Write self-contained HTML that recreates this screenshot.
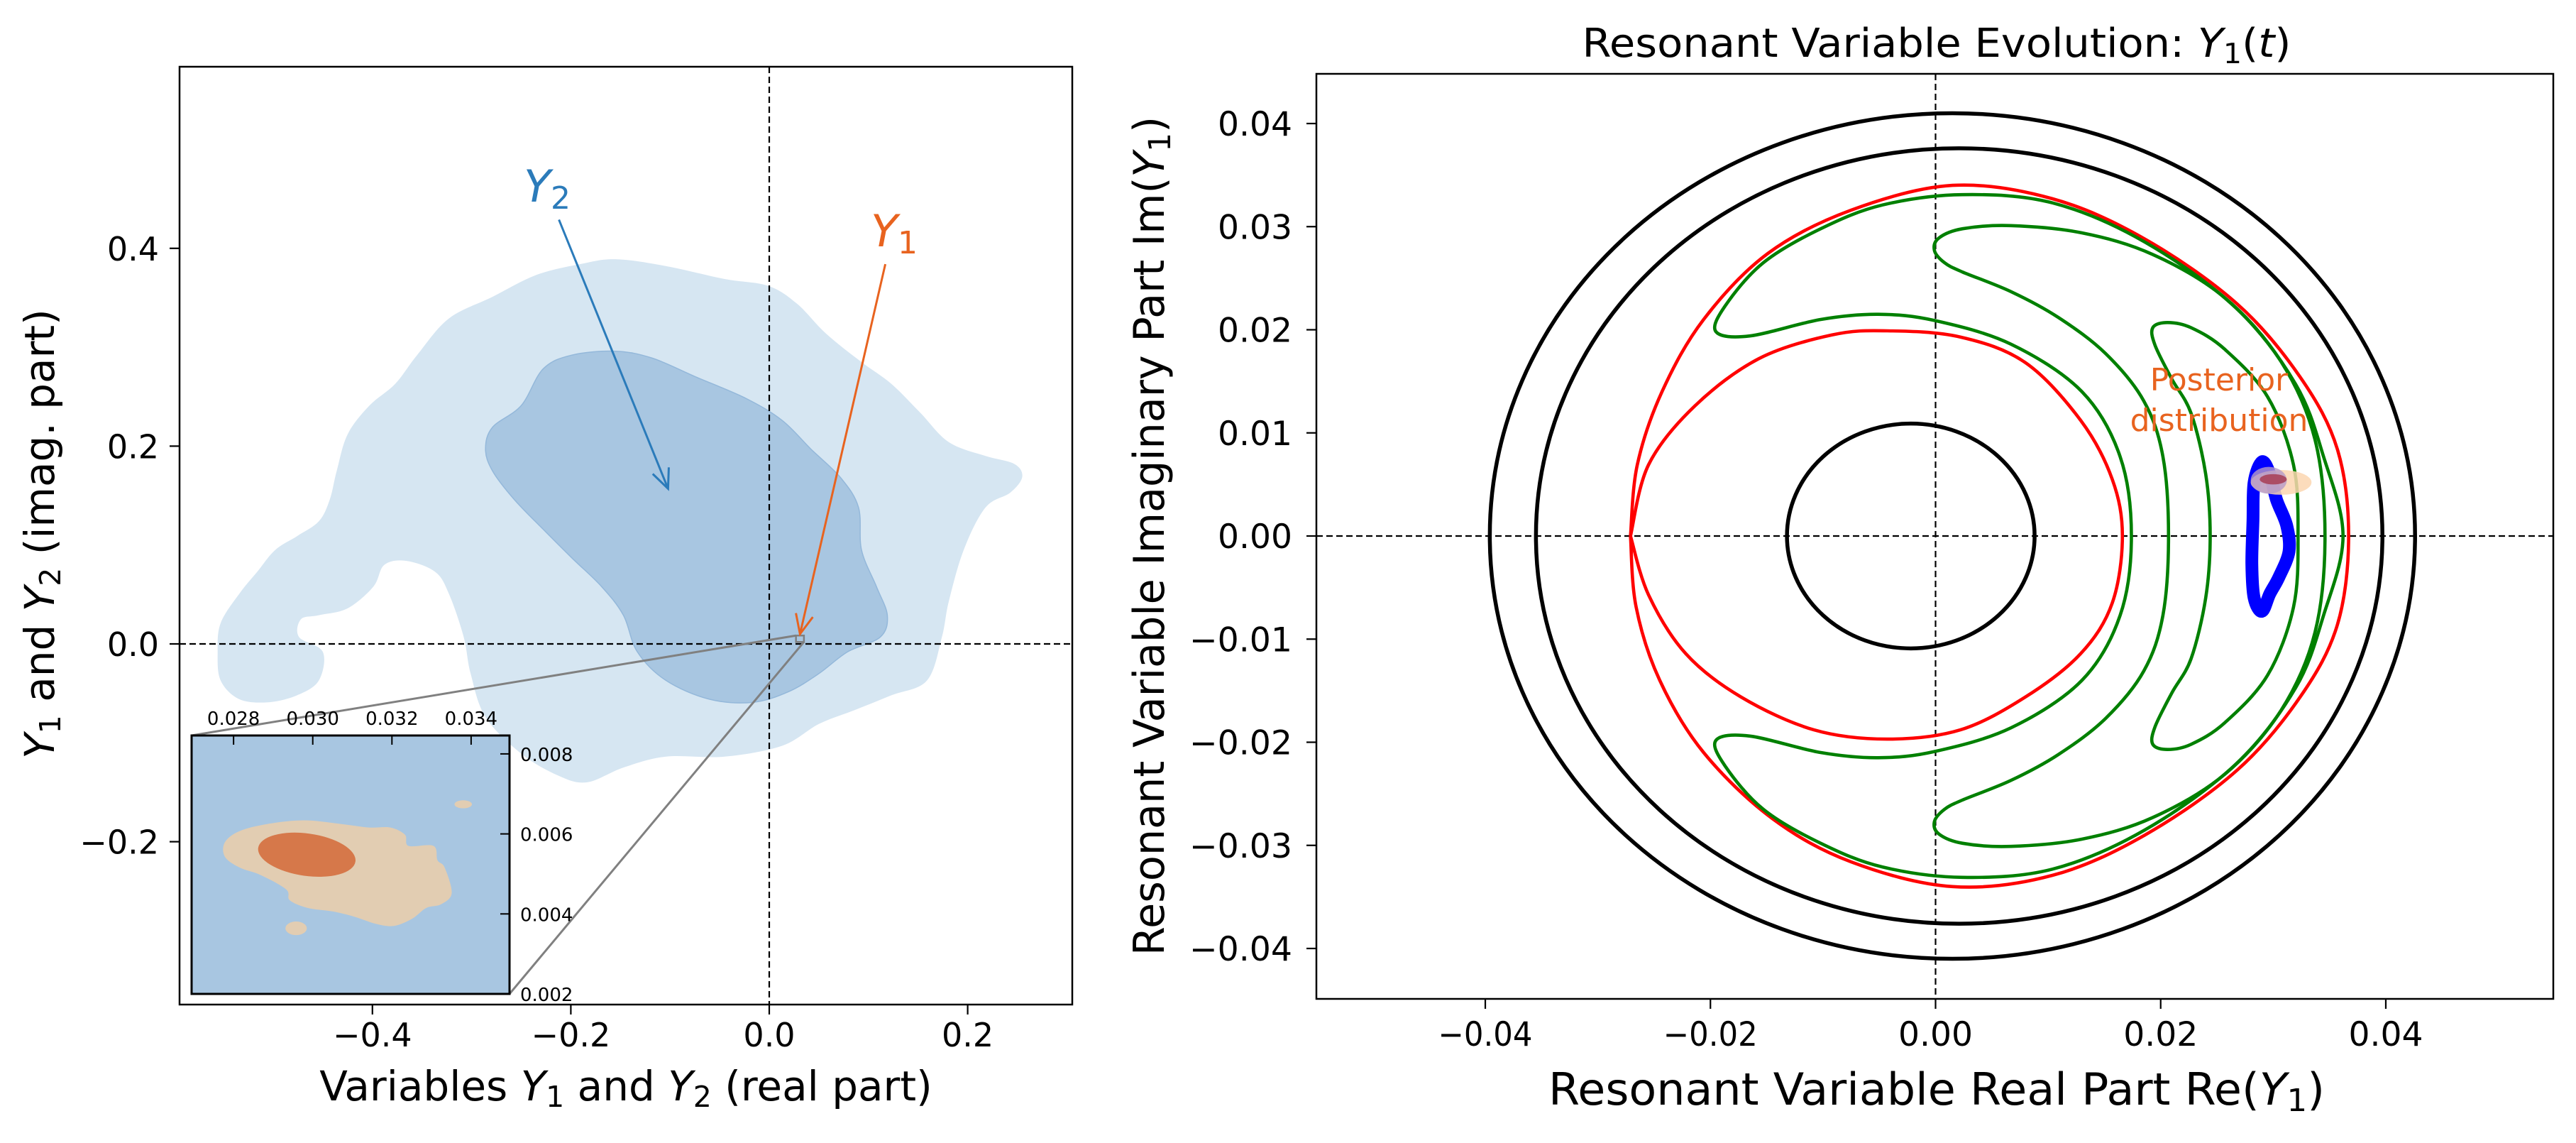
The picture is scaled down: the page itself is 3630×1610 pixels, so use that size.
<!DOCTYPE html>
<html><head><meta charset="utf-8"><style>
html,body{margin:0;padding:0;background:#fff;}
svg text{font-family:"DejaVu Sans","Liberation Sans",sans-serif;}
</style></head><body>
<svg id="fig" width="3630" height="1605" viewBox="0 0 3630 1605" xmlns="http://www.w3.org/2000/svg">
<rect x="0" y="0" width="3630" height="1605" fill="#fff"/>
<defs>
<clipPath id="clipL"><rect x="253" y="94" width="1258" height="1321"/></clipPath>
<clipPath id="clipI"><rect x="270" y="1036" width="448" height="364"/></clipPath>
<clipPath id="clipR"><rect x="1855" y="104" width="1743" height="1303"/></clipPath>
</defs>
<g id="left"></g>
<g id="right"></g>
</svg>
<script>
// ---------- LEFT PANEL DATA ----------
const leftXTicks=[-0.4,-0.2,0.0,0.2];
const leftYTicks=[-0.2,0.0,0.2,0.4];
const outerX=[-0.556,-0.553,-0.534,-0.516,-0.498,-0.476,-0.454,-0.443,-0.436,-0.425,-0.403,-0.377,-0.355,-0.323,-0.279,-0.235,-0.191,-0.155,-0.104,-0.045,-0.001,0.028,0.057,0.093,0.123,0.152,0.181,0.218,0.247,0.255,0.243,0.218,0.196,0.181,0.174,0.159,0.123,0.086,0.050,0.013,-0.045,-0.104,-0.147,-0.184,-0.213,-0.250,-0.286,-0.301,-0.308,-0.323,-0.337,-0.366,-0.388,-0.399,-0.425,-0.454,-0.472,-0.474,-0.450,-0.454,-0.476,-0.505,-0.534,-0.553];
const outerY=[-0.008,0.021,0.051,0.073,0.095,0.109,0.124,0.146,0.175,0.212,0.241,0.263,0.292,0.329,0.351,0.373,0.384,0.389,0.382,0.369,0.362,0.344,0.314,0.285,0.263,0.234,0.204,0.190,0.182,0.169,0.153,0.138,0.095,0.043,0.007,-0.037,-0.052,-0.067,-0.081,-0.103,-0.114,-0.114,-0.125,-0.140,-0.133,-0.111,-0.074,-0.030,0.007,0.051,0.073,0.084,0.080,0.058,0.036,0.029,0.025,0.007,-0.008,-0.037,-0.052,-0.059,-0.056,-0.037];
const innerX=[-0.286,-0.279,-0.250,-0.228,-0.199,-0.155,-0.118,-0.074,-0.023,0.013,0.042,0.072,0.090,0.093,0.108,0.119,0.112,0.079,0.050,0.020,-0.016,-0.060,-0.104,-0.133,-0.147,-0.169,-0.199,-0.228,-0.257,-0.279];
const innerY=[0.197,0.219,0.241,0.278,0.292,0.296,0.289,0.270,0.248,0.226,0.197,0.168,0.138,0.095,0.058,0.029,0.007,-0.008,-0.030,-0.048,-0.059,-0.056,-0.037,-0.008,0.029,0.058,0.087,0.116,0.146,0.175];
const insetXTicks=[0.028,0.030,0.032,0.034];
const insetYTicks=[0.002,0.004,0.006,0.008];
const tanX=[0.02778,0.02815,0.02887,0.02978,0.03069,0.03142,0.03196,0.03233,0.03242,0.03305,0.03315,0.03333,0.03351,0.03324,0.03287,0.03251,0.03205,0.03160,0.03105,0.03051,0.02987,0.02942,0.02933,0.02869,0.02815,0.02778];
const tanY=[0.00579,0.00607,0.00625,0.00634,0.00625,0.00616,0.00616,0.00598,0.00570,0.00570,0.00534,0.00516,0.00452,0.00424,0.00415,0.00388,0.00370,0.00375,0.00393,0.00406,0.00415,0.00434,0.00461,0.00497,0.00516,0.00543];
const coreEllipse=[0.02985,0.00548,0.00124,0.00053];
const tanBlobs=[[0.02958,0.00364,0.00027,0.00017],[0.0338,0.00674,0.00022,0.0001]];
const y2Arrow=[-0.212,0.429,-0.102,0.157];
const y1Arrow=[0.117,0.384,0.031,0.010];
const insetRange=[0.02694,0.03497,0.002,0.00846];

// ---------- RIGHT PANEL DATA ----------
const rightXTicks=[-0.04,-0.02,0.00,0.02,0.04];
const rightXLabels=["\u22120.04","\u22120.02","0.00","0.02","0.04"];
const rightYTicks=[-0.04,-0.03,-0.02,-0.01,0.00,0.01,0.02,0.03,0.04];
const rightYLabels=["\u22120.04","\u22120.03","\u22120.02","\u22120.01","0.00","0.01","0.02","0.03","0.04"];
const blackCircles=[[0.0015,0,0.0411,0.041],[0.0021,0,0.0376,0.0376],[-0.0022,0,0.011,0.0109]];
const redOuterX=[-0.0271,-0.0265,-0.0243,-0.0206,-0.0149,-0.0075,0.0015,0.0104,0.0186,0.0268,0.0324,0.0357,0.0367,0.0357,0.0324,0.0268,0.0186,0.0104,0.0015,-0.0075,-0.0145,-0.0206,-0.0245,-0.0266,-0.0271];
const redOuterY=[0,0.0069,0.0140,0.0210,0.0274,0.0316,0.0340,0.0327,0.0288,0.0225,0.0154,0.0084,0,-0.0086,-0.0156,-0.0227,-0.0290,-0.0329,-0.0340,-0.0316,-0.0274,-0.0210,-0.0140,-0.0069,0];
const redInnerX=[-0.0271,-0.0255,-0.0214,-0.0157,-0.0092,-0.0043,0.0022,0.0080,0.0129,0.0157,0.0166,0.0157,0.0129,0.0080,0.0022,-0.0043,-0.0108,-0.0173,-0.0222,-0.0255,-0.0271];
const redInnerY=[0,0.0069,0.0126,0.0172,0.0195,0.0199,0.0193,0.0168,0.0112,0.0055,0,-0.0065,-0.0114,-0.0156,-0.0188,-0.0197,-0.0188,-0.0156,-0.0114,-0.0057,0];
const greenAX=[-0.0195,-0.0187,-0.0153,-0.0102,-0.0047,0.0024,0.0104,0.0186,0.0267,0.0320,0.0345,0.0362,0.0345,0.0320,0.0267,0.0186,0.0104,0.0024,-0.0047,-0.0102,-0.0153,-0.0187,-0.0195,-0.0165,-0.0102,-0.0051,-0.0001,0.0067,0.0130,0.0164,0.0174,0.0164,0.0130,0.0067,-0.0001,-0.0051,-0.0102,-0.0165];
const greenAY=[0.0198,0.0223,0.0265,0.0298,0.0321,0.0331,0.0323,0.0285,0.0221,0.0147,0.0076,0,-0.0076,-0.0147,-0.0221,-0.0285,-0.0323,-0.0331,-0.0321,-0.0298,-0.0265,-0.0223,-0.0198,-0.0194,-0.0210,-0.0215,-0.0209,-0.0186,-0.0140,-0.0077,0,0.0077,0.0140,0.0186,0.0209,0.0215,0.0210,0.0194];
const greenCX=[-0.0001,0.0003,0.0024,0.0067,0.0130,0.0193,0.0257,0.0307,0.0337,0.0346,0.0337,0.0307,0.0257,0.0193,0.0130,0.0067,0.0024,0.0003,-0.0001,0.0008,0.0024,0.0067,0.0109,0.0151,0.0185,0.0202,0.0207,0.0202,0.0185,0.0151,0.0109,0.0067,0.0024,0.0008];
const greenCY=[0.0277,0.0289,0.0298,0.0301,0.0294,0.0273,0.0231,0.0169,0.0094,0,-0.0094,-0.0169,-0.0231,-0.0273,-0.0294,-0.0301,-0.0298,-0.0289,-0.0277,-0.0265,-0.0256,-0.0237,-0.0212,-0.0177,-0.0131,-0.0077,0,0.0077,0.0131,0.0177,0.0212,0.0237,0.0256,0.0265];
const greenBX=[0.0193,0.0206,0.0227,0.0257,0.0295,0.0318,0.0322,0.0318,0.0295,0.0257,0.0227,0.0206,0.0193,0.0195,0.0210,0.0227,0.0240,0.0244,0.0240,0.0227,0.0210,0.0195];
const greenBY=[0.0202,0.0207,0.0202,0.0181,0.0135,0.0069,0,-0.0069,-0.0135,-0.0181,-0.0202,-0.0207,-0.0202,-0.0185,-0.0152,-0.0119,-0.0060,0,0.0060,0.0119,0.0152,0.0185];
const blueX=[0.0290,0.0297,0.0303,0.0312,0.0314,0.0305,0.0297,0.0290,0.0283,0.0281,0.0282,0.0283];
const blueY=[0.0072,0.0060,0.0035,0.0010,-0.0015,-0.0040,-0.0056,-0.0073,-0.0060,-0.0027,0.0015,0.0052];
const posteriorBlobs=[[0.0307,0.0052,0.0027,0.0012,"#fcd6b0",0.85],[0.0296,0.0054,0.0016,0.0013,"#b59ac8",0.8],[0.0300,0.0055,0.0012,0.0005,"#a8435a",0.9]];

const NS="http://www.w3.org/2000/svg";
function mk(parent,tag,attrs,text){const e=document.createElementNS(NS,tag);for(const k in attrs)e.setAttribute(k,attrs[k]);if(text!==undefined)e.textContent=text;parent.appendChild(e);return e;}
function smooth(pts,closed){
  const n=pts.length;let d="M"+pts[0][0].toFixed(1)+","+pts[0][1].toFixed(1);
  const last=closed?n:n-1;
  for(let i=0;i<last;i++){
    const p0=pts[closed?(i-1+n)%n:Math.max(i-1,0)],p1=pts[i],p2=pts[(i+1)%n],p3=pts[closed?(i+2)%n:Math.min(i+2,n-1)];
    const c1=[p1[0]+(p2[0]-p0[0])/6,p1[1]+(p2[1]-p0[1])/6],c2=[p2[0]-(p3[0]-p1[0])/6,p2[1]-(p3[1]-p1[1])/6];
    d+="C"+c1[0].toFixed(1)+","+c1[1].toFixed(1)+" "+c2[0].toFixed(1)+","+c2[1].toFixed(1)+" "+p2[0].toFixed(1)+","+p2[1].toFixed(1);
  }
  return d+(closed?"Z":"");
}
function fmt(v,dec){const s=Math.abs(v).toFixed(dec);return (v<0?"\u2212":"")+s;}

// ---------- LEFT PANEL ----------
const L=document.getElementById('left');
const LX=v=>1084+v*1398, LY=v=>907-v*1393;
const gl=mk(L,'g',{'clip-path':'url(#clipL)'});
let e;
e=mk(gl,'path',{d:smooth(outerX.map((x,i)=>[LX(x),LY(outerY[i])]),true),fill:'#d6e6f2'});


e=mk(gl,'path',{d:smooth(innerX.map((x,i)=>[LX(x),LY(innerY[i])]),true),fill:'#a8c6e1',stroke:'#94b8da','stroke-width':1.5});


e=mk(gl,'line',{x1:LX(0),x2:LX(0),y1:94,y2:1415,stroke:'#000','stroke-width':2.2,'stroke-dasharray':'9,5'});


e=mk(gl,'line',{x1:253,x2:1511,y1:LY(0),y2:LY(0),stroke:'#000','stroke-width':2.2,'stroke-dasharray':'9,5'});


const rx0=LX(insetRange[0]),rx1=LX(insetRange[1]),ry0=LY(insetRange[3]),ry1=LY(insetRange[2]);
e=mk(gl,'rect',{x:rx0,y:ry0,width:rx1-rx0,height:ry1-ry0,fill:'none',stroke:'#808080','stroke-width':2.5});


e=mk(gl,'line',{x1:270,y1:1036,x2:rx0,y2:ry0,stroke:'#808080','stroke-width':3});


e=mk(gl,'line',{x1:718,y1:1400,x2:rx1,y2:ry1,stroke:'#808080','stroke-width':3});


function arrow(par,a,color,name){
  const x1=LX(a[0]),y1=LY(a[1]),x2=LX(a[2]),y2=LY(a[3]);
  const g=mk(par,'g',{stroke:color,'stroke-width':3,fill:'none'});
  
  
  mk(g,'line',{x1:x1,y1:y1,x2:x2,y2:y2});
  const ang=Math.atan2(y1-y2,x1-x2),h=30,s=0.42;
  mk(g,'polyline',{points:`${x2+h*Math.cos(ang+s)},${y2+h*Math.sin(ang+s)} ${x2},${y2} ${x2+h*Math.cos(ang-s)},${y2+h*Math.sin(ang-s)}`});
}
arrow(L,y2Arrow,'#2b7bba','y2-arrow');
arrow(L,y1Arrow,'#e8631f','y1-arrow');
e=mk(L,'text',{x:771,y:284,'font-size':62,fill:'#2b7bba','text-anchor':'middle'});


e.innerHTML='<tspan font-style="italic">Y</tspan><tspan font-size="44" dy="10">2</tspan>';
e=mk(L,'text',{x:1260,y:347,'font-size':62,fill:'#e8631f','text-anchor':'middle'});


e.innerHTML='<tspan font-style="italic">Y</tspan><tspan font-size="44" dy="10">1</tspan>';
e=mk(L,'rect',{x:253,y:94,width:1258,height:1321,fill:'none',stroke:'#000','stroke-width':2.5});


leftXTicks.forEach(v=>{
  mk(L,'line',{x1:LX(v),x2:LX(v),y1:1415,y2:1429,stroke:'#000','stroke-width':2.2});
  e=mk(L,'text',{x:LX(v),y:1474,'font-size':46,'text-anchor':'middle'},fmt(v,1));
  
  
});
leftYTicks.forEach(v=>{
  mk(L,'line',{x1:239,x2:253,y1:LY(v),y2:LY(v),stroke:'#000','stroke-width':2.2});
  e=mk(L,'text',{x:224,y:LY(v)+17,'font-size':46,'text-anchor':'end'},fmt(v,1));
  
  
});
e=mk(L,'text',{x:882,y:1550,'font-size':58,'text-anchor':'middle'});


e.innerHTML='Variables <tspan font-style="italic">Y</tspan><tspan font-size="41" dy="9">1</tspan><tspan dy="-9"> and </tspan><tspan font-style="italic">Y</tspan><tspan font-size="41" dy="9">2</tspan><tspan dy="-9"> (real part)</tspan>';
e=mk(L,'text',{x:0,y:0,'font-size':58,'text-anchor':'middle',transform:'translate(76,752) rotate(-90)'});


e.innerHTML='<tspan font-style="italic">Y</tspan><tspan font-size="41" dy="9">1</tspan><tspan dy="-9"> and </tspan><tspan font-style="italic">Y</tspan><tspan font-size="41" dy="9">2</tspan><tspan dy="-9"> (imag. part)</tspan>';
const IX=v=>270+(v-insetRange[0])/(insetRange[1]-insetRange[0])*448;
const IY=v=>1400-(v-insetRange[2])/(insetRange[3]-insetRange[2])*364;
const gi=mk(L,'g',{'clip-path':'url(#clipI)'});


mk(gi,'rect',{x:270,y:1036,width:448,height:364,fill:'#a8c6e1'});
e=mk(gi,'path',{d:smooth(tanX.map((x,i)=>[IX(x),IY(tanY[i])]),true),fill:'#e2cdb2'});


tanBlobs.forEach(b=>{
  e=mk(gi,'ellipse',{cx:IX(b[0]),cy:IY(b[1]),rx:b[2]/(insetRange[1]-insetRange[0])*448,ry:b[3]/(insetRange[3]-insetRange[2])*364,fill:'#e2cdb2'});
  
  
});
e=mk(gi,'ellipse',{cx:IX(coreEllipse[0]),cy:IY(coreEllipse[1]),rx:coreEllipse[2]/(insetRange[1]-insetRange[0])*448,ry:coreEllipse[3]/(insetRange[3]-insetRange[2])*364,fill:'#d6784a',transform:`rotate(8 ${IX(coreEllipse[0])} ${IY(coreEllipse[1])})`});


e=mk(L,'rect',{x:270,y:1036,width:448,height:364,fill:'none',stroke:'#000','stroke-width':3});


insetXTicks.forEach(v=>{
  mk(L,'line',{x1:IX(v),x2:IX(v),y1:1036,y2:1049,stroke:'#000','stroke-width':2});
  e=mk(L,'text',{x:IX(v),y:1021,'font-size':26,'text-anchor':'middle'},v.toFixed(3));
  
  
});
insetYTicks.forEach(v=>{
  mk(L,'line',{x1:705,x2:718,y1:IY(v),y2:IY(v),stroke:'#000','stroke-width':2});
  e=mk(L,'text',{x:733,y:IY(v)+10,'font-size':26,'text-anchor':'start'},v.toFixed(3));
  
  
});

// ---------- RIGHT PANEL ----------
const R=document.getElementById('right');
const RX=v=>2727.5+v*15862, RY=v=>755-v*14525;
const gr=mk(R,'g',{'clip-path':'url(#clipR)'});
e=mk(gr,'line',{x1:RX(0),x2:RX(0),y1:104,y2:1407,stroke:'#000','stroke-width':2.2,'stroke-dasharray':'9,5'});


e=mk(gr,'line',{x1:1855,x2:3598,y1:RY(0),y2:RY(0),stroke:'#000','stroke-width':2.2,'stroke-dasharray':'9,5'});


blackCircles.forEach(c=>{
  e=mk(gr,'ellipse',{cx:RX(c[0]),cy:RY(c[1]),rx:c[2]*15862,ry:c[3]*14525,fill:'none',stroke:'#000','stroke-width':5.5});
  
  
});
function curve(xs,ys,closed,color,w,name){
  const el=mk(gr,'path',{d:smooth(xs.map((x,i)=>[RX(x),RY(ys[i])]),closed),fill:'none',stroke:color,'stroke-width':w,'stroke-linejoin':'round'});
  
  
  return el;
}
curve(redOuterX,redOuterY,false,'#ff0000',4.6,'separatrix-outer');
curve(redInnerX,redInnerY,false,'#ff0000',4.6,'separatrix-inner');
curve(greenAX,greenAY,true,'#008000',4.6,'green-trajectory-a');
curve(greenCX,greenCY,true,'#008000',4.6,'green-trajectory-c');
curve(greenBX,greenBY,true,'#008000',4.6,'green-trajectory-b');
curve(blueX,blueY,true,'#0000ff',18,'blue-trajectory');
posteriorBlobs.forEach(b=>{
  e=mk(gr,'ellipse',{cx:RX(b[0]),cy:RY(b[1]),rx:b[2]*15862,ry:b[3]*14525,fill:b[4],'fill-opacity':b[5]});
  
  
});
e=mk(R,'text',{x:3127,y:550,'font-size':44,fill:'#e8631f','text-anchor':'middle'},'Posterior');


e=mk(R,'text',{x:3127,y:607,'font-size':44,fill:'#e8631f','text-anchor':'middle'},'distribution');


e=mk(R,'rect',{x:1855,y:104,width:1743,height:1303,fill:'none',stroke:'#000','stroke-width':2.5});


rightXTicks.forEach((v,i)=>{
  mk(R,'line',{x1:RX(v),x2:RX(v),y1:1407,y2:1421,stroke:'#000','stroke-width':2.2});
  e=mk(R,'text',{x:RX(v),y:1473,'font-size':47,'text-anchor':'middle',textLength:rightXLabels[i].length>4?133:105,lengthAdjust:'spacingAndGlyphs'},rightXLabels[i]);
  
  
});
rightYTicks.forEach((v,i)=>{
  mk(R,'line',{x1:1841,x2:1855,y1:RY(v),y2:RY(v),stroke:'#000','stroke-width':2.2});
  e=mk(R,'text',{x:1821,y:RY(v)+17,'font-size':47,'text-anchor':'end',textLength:rightYLabels[i].length>4?145:105,lengthAdjust:'spacingAndGlyphs'},rightYLabels[i]);
  
  
});
e=mk(R,'text',{x:2729,y:80,'font-size':56,'text-anchor':'middle',textLength:999,lengthAdjust:'spacingAndGlyphs'});


e.innerHTML='Resonant Variable Evolution: <tspan font-style="italic">Y</tspan><tspan font-size="39" dy="9">1</tspan><tspan dy="-9">(</tspan><tspan font-style="italic">t</tspan>)';
e=mk(R,'text',{x:2729,y:1556,'font-size':62,'text-anchor':'middle',textLength:1094,lengthAdjust:'spacingAndGlyphs'});


e.innerHTML='Resonant Variable Real Part Re(<tspan font-style="italic">Y</tspan><tspan font-size="44" dy="9">1</tspan><tspan dy="-9">)</tspan>';
e=mk(R,'text',{x:0,y:0,'font-size':60,'text-anchor':'middle',textLength:1182,lengthAdjust:'spacingAndGlyphs',transform:'translate(1640,755) rotate(-90)'});


e.innerHTML='Resonant Variable Imaginary Part Im(<tspan font-style="italic">Y</tspan><tspan font-size="43" dy="9">1</tspan><tspan dy="-9">)</tspan>';
</script>
</body></html>
